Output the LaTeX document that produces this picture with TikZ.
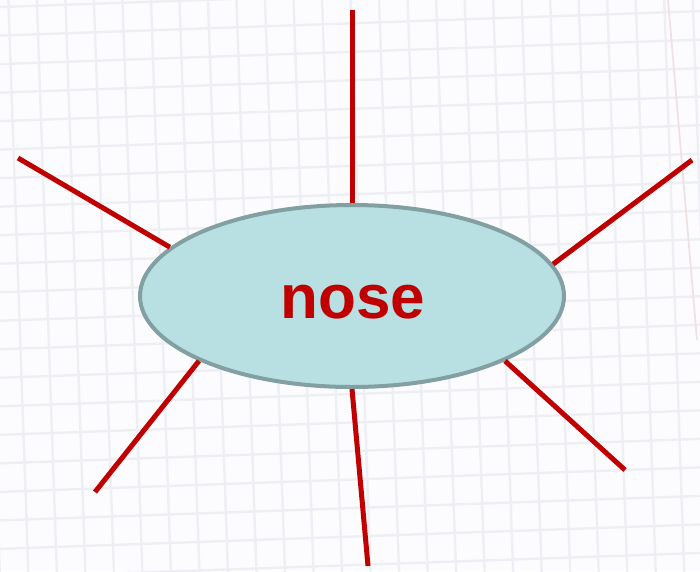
\documentclass[tikz,border=0pt]{standalone}
\usepackage{fontspec}
\setmainfont{Liberation Sans}
\usetikzlibrary{shapes.geometric,backgrounds}
\definecolor{spoke}{HTML}{C00000}
\definecolor{ellfill}{HTML}{B8DFE2}
\definecolor{elldraw}{HTML}{829FA2}
\definecolor{gridc}{HTML}{EEEFF4}
\definecolor{pinkline}{HTML}{EFE2E5}
\definecolor{paper}{HTML}{FCFCFE}
\tikzset{
  spokeline/.style={draw=spoke, line width=5pt},
  bubble/.style={ellipse, fill=ellfill, draw=elldraw, line width=4pt,
    minimum width=424pt, minimum height=182pt, inner sep=0pt},
  label/.style={text=spoke, font=\fontsize{62}{62}\selectfont\bfseries},
  gridline/.style={draw=gridc, line width=2.4pt}
}
\begin{document}
\begin{tikzpicture}[x=1pt,y=-1pt]
\useasboundingbox (0,0) rectangle (700,571);
\fill[paper] (0,0) rectangle (700,571);
\begin{scope}
\clip (0,0) rectangle (700,571);
\begin{scope}[rotate around={2:(350,285)}]
\foreach \i in {-3,...,28} {
  \draw[gridline] (\i*28.5-10,-40) -- (\i*28.5-10,620);
}
\foreach \j in {-3,...,23} {
  \draw[gridline] (-40,\j*28.5-5) -- (740,\j*28.5-5);
}
\end{scope}
\draw[pinkline, line width=1.8pt] (668,0) -- (697,340);
\end{scope}
\node[bubble] (e) at (352,296) {};
\node[label] (t) at (353,302) {nose};
\coordinate (tN) at (352,10);
\coordinate (tNW) at (18,158);
\coordinate (tNE) at (692,160);
\coordinate (tSW) at (95,492);
\coordinate (tS) at (368,566);
\coordinate (tSE) at (625,470);
\draw[spokeline] (e.90) -- (tN);
\draw[spokeline] (e.165.7) -- (tNW);
\draw[spokeline] (e.9) -- (tNE);
\draw[spokeline] (e.203.9) -- (tSW);
\draw[spokeline] (e.270.3) -- (tS);
\draw[spokeline] (e.337) -- (tSE);
\end{tikzpicture}
\end{document}
